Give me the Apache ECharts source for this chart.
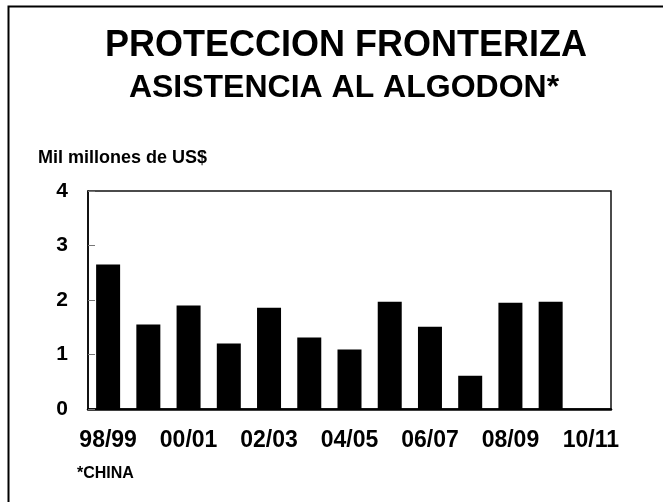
<!DOCTYPE html>
<html>
<head>
<meta charset="utf-8">
<style>
  html, body { margin: 0; padding: 0; background: #fff; }
  #container { width: 663px; height: 502px; }
</style>
<script src="https://cdn.jsdelivr.net/npm/echarts@6/dist/echarts.min.js"></script>
</head>
<body>
<div id="container"></div>
<script>
// campañas y asistencia (mil millones de US$)
const seasons = ['98/99', '99/00', '00/01', '01/02', '02/03', '03/04', '04/05',
    '05/06', '06/07', '07/08', '08/09', '09/10', '10/11'];
const support = [2.65, 1.55, 1.9, 1.2, 1.86, 1.31, 1.09, 1.97, 1.51, 0.61, 1.95, 1.97, null];
const yTicks = [0, 1, 2, 3, 4];

const titleLine1 = 'PROTECCION FRONTERIZA';
const titleLine2 = 'ASISTENCIA AL ALGODON*';
const unitLabel = 'Mil millones de US$';
const footNote = '*CHINA';

const fontFam = '"Liberation Sans", Arial, sans-serif';

let dom = document.getElementById('container');
let myChart = echarts.init(dom);

function textEl(text, x, y, size, align) {
    return {
        type: 'text',
        silent: true,
        style: {
            text: text,
            x: x,
            y: y,
            font: 'bold ' + size + 'px ' + fontFam,
            fill: '#000',
            textAlign: align,
            align: align,
            textVerticalAlign: 'middle',
            verticalAlign: 'middle'
        }
    };
}

let option = {
    animation: false,
    backgroundColor: '#fff',
    graphic: [
        {
            type: 'polyline',
            silent: true,
            shape: { points: [[8.5, 502], [8.5, 6.5], [663, 6.5]] },
            style: { stroke: '#000', lineWidth: 2, fill: null }
        },
        textEl(titleLine1, 346, 46, 36, 'center'),
        textEl(titleLine2, 344, 88, 32, 'center'),
        textEl(unitLabel, 38, 158, 18, 'left'),
        textEl(footNote, 77, 474, 16, 'left')
    ],
    grid: {
        left: 88,
        top: 191,
        right: 52,
        bottom: 93,
        show: true,
        borderColor: '#111',
        borderWidth: 1.5,
        backgroundColor: 'transparent'
    },
    xAxis: {
        type: 'category',
        data: seasons,
        axisLine: { lineStyle: { color: '#000', width: 2.5 } },
        axisTick: { show: false },
        axisLabel: {
            interval: 1,
            color: '#000',
            fontFamily: fontFam,
            fontWeight: 'bold',
            fontSize: 23,
            margin: 20
        }
    },
    yAxis: {
        type: 'value',
        min: yTicks[0],
        max: yTicks[yTicks.length - 1],
        interval: 1,
        splitLine: { show: false },
        axisLine: { show: true, lineStyle: { color: '#000', width: 1.5 } },
        axisTick: { show: true, inside: true, length: 7, lineStyle: { color: '#777', width: 1 } },
        axisLabel: {
            color: '#000',
            fontFamily: fontFam,
            fontWeight: 'bold',
            fontSize: 21,
            margin: 20
        }
    },
    series: [
        {
            type: 'bar',
            data: support,
            barWidth: 24,
            itemStyle: { color: '#000' }
        }
    ]
};

myChart.setOption(option);
</script>
</body>
</html>
